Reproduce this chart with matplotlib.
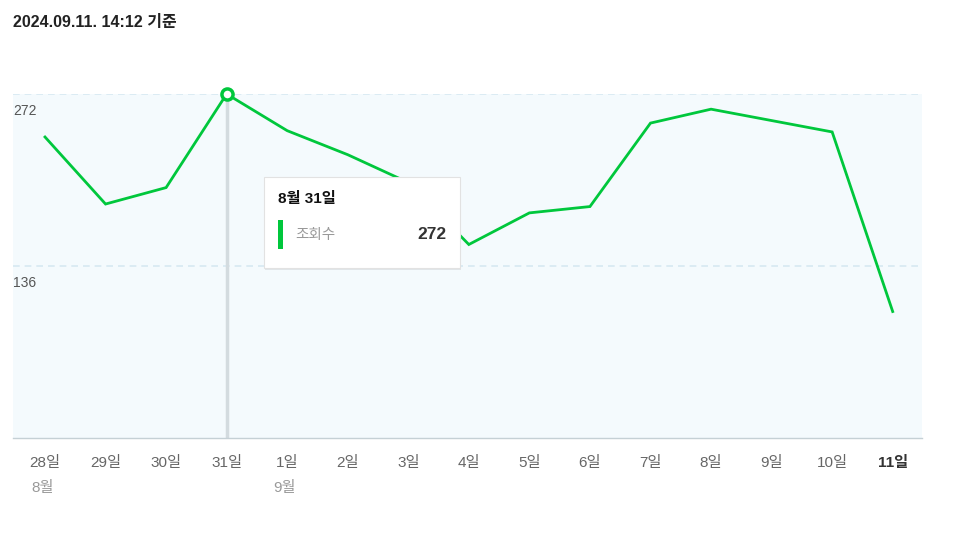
import matplotlib
matplotlib.use('Agg')
import matplotlib.pyplot as plt
from matplotlib.patches import Rectangle
import numpy as np

plt.rcParams['font.family'] = ['Liberation Sans', 'Noto Sans CJK KR', 'DejaVu Sans']

# data
days = ['28일', '29일', '30일', '31일', '1일', '2일', '3일', '4일',
        '5일', '6일', '7일', '8일', '9일', '10일', '11일']
months = {0: '8월', 4: '9월'}
views = [238, 185, 198, 272, 243, 224, 202, 153, 178, 183, 249, 260, 251, 242, 100]
yticks = [136, 272]
title = '2024.09.11. 14:12 기준'
hover_idx = 3
tip_title = '8월 31일'
tip_label = '조회수'

W, H = 955, 547
fig = plt.figure(figsize=(W / 100, H / 100), dpi=100)

def fx(x):
    return x / W

def fy(y):
    return 1 - y / H

ax = fig.add_axes([fx(13), fy(438), fx(922) - fx(13), fy(94) - fy(438)])
ax.set_facecolor('#f4fafd')
x = np.arange(len(days))
# first point at px 45, spacing ~60.6px; axis spans 13..922
step = 60.55
ax.set_xlim(-(45 - 13) / step, (922 - 45) / step)
ax.set_ylim(0, 272)

for t in yticks:
    ax.axhline(t, color='#d6e8f2', lw=1.2, ls=(0, (4, 3)), zorder=1)

ax.axvline(hover_idx, color='#d3dbdf', lw=2.5, zorder=2)
ax.plot(x, views, color='#00c73c', lw=2, zorder=3, solid_joinstyle='miter')
ax.plot(x[hover_idx], views[hover_idx], 'o', ms=8, mfc='white', mec='#00c73c', mew=2.5,
        zorder=4, clip_on=False)

for s in ['top', 'right', 'left']:
    ax.spines[s].set_visible(False)
ax.spines['bottom'].set_color('#c5d0d5')
ax.spines['bottom'].set_linewidth(1)
ax.set_xticks([])
ax.set_yticks([])

# y labels
for t in yticks:
    ypx = 438 - t * (344 / 272)
    fig.text(fx(13), fy(ypx + 17), str(t), fontsize=10, color='#555555', ha='left', va='center')

# x labels
for i, d in enumerate(days):
    last = i == len(days) - 1
    ax.annotate(d, (i, 0), xytext=(0, -18), textcoords='offset points', ha='center', va='center',
                fontsize=11, color='#333333' if last else '#666666',
                fontweight='bold' if last else 'normal', annotation_clip=False)
for i, m in months.items():
    ax.annotate(m, (i, 0), xytext=(-10, -36), textcoords='offset points', ha='left', va='center',
                fontsize=11, color='#999999', annotation_clip=False)

fig.text(fx(13), fy(22), title, fontsize=11.5, fontweight='bold', color='#222222', ha='left', va='center')

# tooltip
shadow = Rectangle((fx(265), fy(270)), fx(460) - fx(264), fy(177) - fy(268),
                   transform=fig.transFigure, facecolor='#000000', alpha=0.08, edgecolor='none', zorder=5)
fig.patches.append(shadow)
box = Rectangle((fx(264), fy(268)), fx(460) - fx(264), fy(177) - fy(268),
                transform=fig.transFigure, facecolor='white', edgecolor='#e2e2e2', lw=0.8, zorder=6)
fig.patches.append(box)
bar = Rectangle((fx(278), fy(249)), fx(283) - fx(278), fy(220) - fy(249),
                transform=fig.transFigure, facecolor='#00c73c', edgecolor='none', zorder=7)
fig.patches.append(bar)
fig.text(fx(278), fy(199), tip_title, fontsize=11, fontweight='bold', color='#111111',
         ha='left', va='center', zorder=8)
fig.text(fx(295), fy(235), tip_label, fontsize=10.5, color='#999999', ha='left', va='center', zorder=8)
fig.text(fx(446), fy(235), str(views[hover_idx]), fontsize=12.5, fontweight='bold', color='#333333',
         ha='right', va='center', zorder=8)

fig.savefig('out.png', dpi=100)
